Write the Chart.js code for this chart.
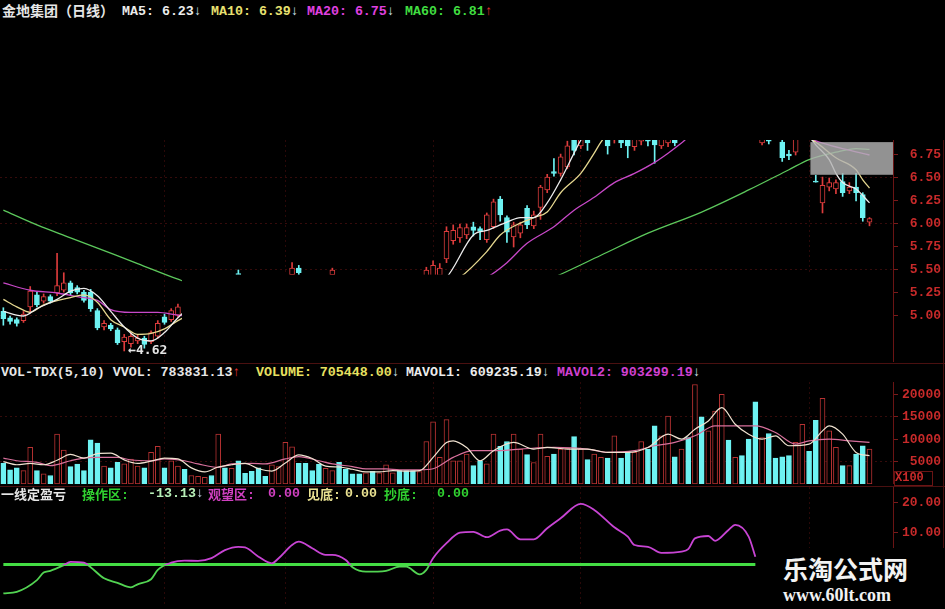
<!DOCTYPE html>
<html>
<head>
<meta charset="utf-8">
<script src="https://cdn.jsdelivr.net/npm/chart.js@4.4.1/dist/chart.umd.min.js"></script>
<style>
  html, body { margin: 0; background: #000; }
  #wrap { position: relative; width: 945px; height: 609px; overflow: hidden; background: #000; }
  canvas { position: absolute; left: 0; }
  .txt { position: absolute; white-space: pre; font-weight: bold; font-size: 13.3px; line-height: 15px;
         font-family: "Liberation Mono", "DejaVu Sans Mono", "Noto Sans CJK SC", monospace; }
  .cjk { font-family: "Noto Sans CJK SC", sans-serif; font-size: 14px; }
  .cjk13 { font-family: "Noto Sans CJK SC", sans-serif; font-size: 13px; }
  .dn { color: #d8e6f6; }
  .up { color: #e03030; }
  .rule { position: absolute; background: #4a1010; }
</style>
</head>
<body>
<div id="wrap">
  <canvas id="price" width="945" height="222" style="top:140px"></canvas>
  <canvas id="vol" width="945" height="102" style="top:382px"></canvas>
  <canvas id="ind" width="945" height="119" style="top:487px"></canvas>

  <div class="rule" style="left:0;top:363px;width:945px;height:1px"></div>
  <div class="rule" style="left:0;top:486px;width:945px;height:1px"></div>
  <div class="rule" style="left:943px;top:140px;width:1px;height:408px"></div>

  <!-- price header -->
  <div class="txt cjk" style="left:2px;top:3px;color:#e6e6e6">金地集团（日线）</div>
  <div class="txt" style="left:122px;top:4px;color:#ececec">MA5: 6.23<span class="dn">↓</span></div>
  <div class="txt" style="left:211px;top:4px;color:#e8e070">MA10: 6.39<span class="dn">↓</span></div>
  <div class="txt" style="left:307px;top:4px;color:#e040e0">MA20: 6.75<span class="dn">↓</span></div>
  <div class="txt" style="left:405px;top:4px;color:#40dd40">MA60: 6.81<span class="up">↑</span></div>

  <!-- volume header -->
  <div class="txt" style="left:1px;top:365px;color:#e6e6e6">VOL-TDX(5,10) VVOL: 783831.13<span class="up">↑</span></div>
  <div class="txt" style="left:256px;top:365px;color:#e8e060">VOLUME: 705448.00<span class="dn">↓</span></div>
  <div class="txt" style="left:406px;top:365px;color:#ececec">MAVOL1: 609235.19<span class="dn">↓</span></div>
  <div class="txt" style="left:557px;top:365px;color:#d040d0">MAVOL2: 903299.19<span class="dn">↓</span></div>
  <div class="txt" style="left:894px;top:471px;width:37px;height:13px;line-height:13px;font-size:12px;color:#c82a2a;border:1px solid #6a1414">X100</div>

  <!-- indicator header -->
  <div class="txt cjk13" style="left:1px;top:486px;color:#e6e6e6">一线定盈亏</div>
  <div class="txt" style="left:82px;top:486px;color:#30d030"><span class="cjk13">操作区</span>:</div>
  <div class="txt" style="left:148px;top:486px;color:#b8f0b8">-13.13<span class="dn">↓</span></div>
  <div class="txt" style="left:208px;top:486px;color:#d040c0"><span class="cjk13">观望区</span>:</div>
  <div class="txt" style="left:268px;top:486px;color:#d040c0">0.00</div>
  <div class="txt" style="left:307px;top:486px;color:#e8e090"><span class="cjk13">见底</span>:</div>
  <div class="txt" style="left:345px;top:486px;color:#e8e090">0.00</div>
  <div class="txt" style="left:384px;top:486px;color:#30d030"><span class="cjk13">抄底</span>:</div>
  <div class="txt" style="left:437px;top:486px;color:#30d030">0.00</div>

  <!-- watermark -->
  <div style="position:absolute;left:757px;top:548px;width:188px;height:61px;background:#000"></div>
  <div style="position:absolute;left:783px;top:553px;color:#f2f2f2;font:bold 25px 'Noto Sans CJK SC',sans-serif;line-height:30px">乐淘公式网</div>
  <div style="position:absolute;left:783px;top:585px;color:#f2f2f2;font:bold 18px 'Liberation Serif',serif;line-height:20px">www.60lt.com</div>
</div>

<script>
// ---- data ----
const slotCount = 133;
const monthDays = [24, 42, 64, 86, 120];

// candles that can be seen (day index, open, high, low, close)
const candleDay = [0,1,2,3,4,5,6,7,8,9,10,11,12,13,14,15,16,17,18,19,20,21,22,23,24,25,26,
  35,43,44,49,
  63,64,65,66,67,68,69,70,71,72,73,74,75,76,77,78,79,80,81,82,83,84,85,86,87,
  90,91,92,93,94,95,96,97,98,99,100,
  113,114,116,117,118,121,122,123,124,125,126,127,128,129];
const open  = [5.05,4.98,4.96,4.95,5.10,5.23,5.16,5.21,5.25,5.28,5.36,5.31,5.26,5.26,5.06,4.88,4.90,4.85,4.72,4.70,4.73,4.76,4.72,4.78,4.99,4.96,5.01,
  5.46,5.45,5.52,5.45,
  5.42,5.40,5.44,5.62,5.82,5.85,5.88,5.97,5.95,5.83,5.97,6.27,6.07,5.86,5.90,6.17,5.98,6.18,6.37,6.57,6.55,6.62,6.95,6.85,7.05,
  7.00,6.95,7.00,6.98,6.84,6.90,7.00,7.00,6.85,6.88,7.00,
  6.88,6.93,6.89,6.76,6.78,6.46,6.23,6.40,6.38,6.46,6.36,6.40,6.32,6.02];
const high  = [5.09,5.00,4.98,5.05,5.32,5.26,5.24,5.23,5.68,5.47,5.38,5.33,5.28,5.29,5.08,4.95,4.92,4.87,4.80,4.82,4.79,4.78,4.84,4.95,5.02,5.08,5.13,
  5.50,5.58,5.55,5.52,
  5.53,5.60,5.57,5.97,5.99,6.00,6.00,6.02,5.97,6.12,6.27,6.30,6.09,6.02,6.02,6.20,6.14,6.42,6.54,6.71,6.76,6.90,7.05,7.10,7.12,
  7.05,7.15,7.05,7.05,7.00,7.08,7.05,7.05,7.00,7.08,7.05,
  7.00,6.96,6.95,6.80,6.96,6.53,6.51,6.50,6.48,6.55,6.45,6.55,6.34,6.07];
const low   = [4.90,4.91,4.89,4.93,5.03,5.10,5.14,5.14,5.22,5.26,5.23,5.24,5.15,5.05,4.85,4.85,4.84,4.69,4.62,4.66,4.70,4.65,4.70,4.76,4.91,4.94,4.99,
  5.40,5.40,5.44,5.43,
  5.38,5.36,5.40,5.58,5.78,5.80,5.84,5.87,5.83,5.80,5.95,6.03,5.80,5.75,5.85,5.95,5.95,6.05,6.34,6.52,6.52,6.60,6.75,6.82,6.80,
  6.76,6.88,6.83,6.72,6.80,6.86,6.85,6.66,6.82,6.84,6.85,
  6.86,6.87,6.68,6.70,6.75,6.455,6.12,6.36,6.33,6.30,6.33,6.25,6.03,5.98];
const close = [4.97,4.94,4.92,5.02,5.27,5.12,5.21,5.16,5.33,5.36,5.25,5.26,5.17,5.08,4.87,4.92,4.86,4.71,4.77,4.78,4.76,4.69,4.82,4.92,4.93,5.06,5.10,
  5.44,5.52,5.47,5.50,
  5.50,5.55,5.52,5.92,5.93,5.96,5.96,5.93,5.92,6.10,6.24,6.10,5.91,5.99,5.99,5.99,6.10,6.40,6.51,6.55,6.73,6.85,6.80,7.05,6.88,
  6.85,7.12,6.88,6.85,6.95,7.05,6.90,6.86,6.98,7.05,6.88,
  6.95,6.90,6.72,6.74,6.92,6.455,6.42,6.45,6.45,6.34,6.40,6.34,6.07,6.06];
const lowDay = 18, lowPrice = 4.62;

// moving averages: [day, value]
const ma5  = [[0,5.05],[3,5.00],[5,5.08],[8,5.18],[10,5.27],[12,5.30],[14,5.22],[16,5.05],[18,4.88],[20,4.76],[22,4.73],[24,4.82],[26,4.98],[28,5.10],
  [45,5.25],[62,5.30],[64,5.35],[66,5.42],[70,5.88],[72,5.93],[75,6.02],[77,6.07],[79,6.07],[81,6.23],[83,6.48],[85,6.77],[86,6.91],[88,7.10],
  [118,7.05],[120,6.95],[121,6.86],[123,6.70],[124,6.55],[125,6.45],[127,6.38],[129,6.23]];
const ma10 = [[0,5.18],[2,5.10],[4,5.04],[6,5.12],[10,5.20],[12,5.23],[14,5.15],[16,4.96],[18,4.88],[20,4.80],[22,4.81],[24,4.86],[26,4.95],[28,5.02],
  [45,5.20],[62,5.30],[66,5.35],[68,5.42],[72,5.70],[74,5.88],[77,6.01],[79,6.07],[81,6.13],[83,6.34],[86,6.55],[88,6.77],[89,6.89],[91,7.05],
  [117,7.05],[119,6.97],[121,6.89],[124,6.72],[127,6.59],[128,6.48],[129,6.39]];
const ma20 = [[0,5.36],[4,5.28],[8,5.25],[11,5.21],[14,5.17],[16,5.07],[19,5.04],[23,5.04],[26,5.01],[28,5.00],[50,5.10],[68,5.30],
  [72,5.42],[75,5.58],[78,5.79],[82,5.97],[85,6.15],[88,6.29],[91,6.45],[94,6.55],[97,6.67],[99,6.77],[101,6.88],[103,7.00],
  [112,7.10],[118,6.98],[122,6.88],[125,6.82],[129,6.75]];
const ma60 = [[0,6.15],[5,5.99],[10,5.85],[15,5.71],[20,5.57],[26,5.40],[28,5.35],[55,5.15],[78,5.30],[82,5.42],[89,5.66],[96,5.90],
  [104,6.13],[111,6.37],[117,6.59],[120,6.70],[124,6.78],[127,6.82],[129,6.81]];

// volume (x100 shares) and day direction, 1 = up (red), 0 = down (cyan)
const volume = [4600,3150,3600,3000,8170,3000,2260,1890,11140,7590,3890,4480,3000,9880,9140,4000,3600,4840,4500,5590,
  4000,3600,7060,8400,3600,5200,4000,3300,1900,1700,1500,1890,11140,3600,3500,5200,2400,2820,3600,1700,
  4260,3900,9290,8330,4600,4600,3000,4400,3500,3000,4840,3300,2260,2260,2500,2820,2500,4260,2500,3000,
  3000,3000,2800,9500,13900,5960,14400,5200,5200,6700,4100,5200,4500,11140,8400,9500,11140,7800,6550,4800,
  11140,6200,6700,7800,8000,10600,7800,5440,6700,5960,5810,10760,5810,7290,7060,9500,7810,12990,10760,15200,
  6100,7800,10400,22240,14990,11880,16320,20020,9810,5960,6330,10030,18390,10400,11280,5810,6100,6330,9290,13360,
  7290,14250,19130,11880,8170,4100,4100,6700,8550,7810];
const dayUp = [0,0,0,1,1,0,1,0,1,1,0,0,0,0,0,1,0,0,1,1,
  1,0,1,1,0,1,1,0,1,1,1,0,1,0,1,0,0,0,0,0,
  1,1,1,1,0,0,0,0,1,1,0,0,0,0,1,0,1,1,1,0,
  0,0,1,1,1,1,1,1,1,1,0,0,1,1,0,0,1,1,0,1,
  1,1,0,1,1,0,1,0,1,1,0,1,0,0,1,1,0,0,1,1,
  0,1,0,1,0,1,1,1,0,1,0,0,0,1,0,0,0,0,1,1,
  0,0,1,1,1,0,1,0,0,1];
const mavol1 = [[0,5000],[2,4300],[4,4600],[6,4300],[8,5300],[10,6600],[12,5800],[14,6800],[16,6900],[18,5400],[20,4600],[22,5100],
  [24,5800],[26,5600],[28,3600],[30,2700],[32,3800],[34,4300],[36,4600],[38,3400],[40,2900],[42,4700],[44,6500],[46,5700],
  [48,4000],[50,3800],[52,3300],[54,2700],[56,2700],[58,3000],[60,2900],[62,3000],[64,5950],[66,9290],[67,9660],[69,8170],
  [71,5200],[73,7440],[76,9290],[79,7810],[81,8170],[84,7810],[87,7810],[90,7060],[93,7060],[96,8170],[99,11140],[101,10030],
  [103,12250],[105,14100],[107,17050],[109,13360],[111,11140],[113,10030],[115,10770],[117,8550],[120,8920],[122,11880],
  [123,12990],[125,11140],[127,7060],[129,6330]];
const mavol2 = [[0,5800],[2,5200],[5,4840],[7,4100],[10,5200],[12,5800],[14,5950],[17,5950],[19,5370],[22,5200],[24,5600],[27,5200],
  [29,4480],[32,3730],[34,4480],[37,4620],[39,4480],[42,5600],[44,6100],[47,5200],[49,4480],[52,3890],[54,3370],[57,3370],
  [59,3150],[62,3150],[64,3400],[67,5950],[70,7440],[73,7440],[77,7810],[82,8170],[87,7810],[90,7060],[94,7440],[97,8550],
  [100,9290],[103,10770],[106,12990],[109,12990],[112,12990],[115,11510],[118,8920],[120,9660],[123,10030],[126,9660],[129,9290]];

// indicator line (一线定盈亏) and its base level
const indicator = [[0,-10.1],[2,-9.6],[5,-5.7],[6,-3.2],[7,-2.6],[9,-0.7],[10,0.4],[12,0.1],[13,-1.4],[15,-5.1],[17,-6.6],[19,-8.1],
  [20,-7.1],[22,-5.4],[23,-2.3],[25,0.1],[27,0.8],[29,0.7],[31,1.6],[33,4.3],[35,5.4],[36,5.2],[38,2.1],[40,-0.1],[41,1.6],
  [43,6.0],[44,7.1],[46,4.9],[48,2.7],[49,2.7],[51,1.0],[52,-1.4],[54,-2.9],[57,-2.6],[59,-1.2],[60,-1.2],[62,-3.8],[63,-2.3],
  [64,1.6],[66,6.6],[68,10.1],[70,10.4],[72,8.6],[74,10.8],[75,11.2],[77,7.9],[79,7.9],[81,11.6],[83,14.9],[86,19.7],[88,17.7],
  [91,11.9],[93,8.8],[94,6.0],[96,5.4],[98,3.4],[101,3.8],[102,4.6],[103,8.2],[105,9.0],[106,7.4],[108,11.0],[109,12.7],
  [111,8.8],[112,2.1]];
const baseLevel = -0.5;
const baseSpan = [0, 112];

const priceTicks = [5.00, 5.25, 5.50, 5.75, 6.00, 6.25, 6.50, 6.75];
const volTicks = [5000, 10000, 15000, 20000];
const indTicks = [10, 20];

// ---- styling ----
const RED = '#dc3c3c', CYAN = '#6ef2f2';
const AXIS_RED = '#c82a2a', GRID = '#360b0b';
const tickFont = {family: 'Liberation Mono', size: 13, weight: 'bold'};

const xScale = () => ({
  type: 'linear', min: -0.5, max: slotCount - 0.5, offset: false,
  afterBuildTicks: s => { s.ticks = monthDays.map(v => ({value: v})); },
  ticks: {display: false},
  grid: {color: '#2a0808', drawTicks: false, offset: false},
  border: {display: false, dash: [2, 3]}
});

const yScale = (min, max, ticks, fmt, gridOn) => ({
  position: 'right', min, max,
  afterBuildTicks: s => { s.ticks = ticks.map(v => ({value: v})); },
  afterFit: s => { s.width = 48; s.paddingTop = 0; s.paddingBottom = 0; },
  ticks: {color: AXIS_RED, font: tickFont, padding: 4, crossAlign: 'far', callback: fmt},
  grid: {color: c => gridOn(c.tick.value) ? GRID : 'rgba(0,0,0,0)', tickColor: '#7a1a1a', tickLength: 5},
  border: {display: true, color: '#6a1414', dash: [2, 3]}
});

const baseOptions = (scales) => ({
  responsive: false, animation: false, devicePixelRatio: 1, events: [],
  layout: {padding: {left: 0, right: 4, top: 0, bottom: 0}},
  plugins: {legend: {display: false}, tooltip: {enabled: false}},
  scales
});

const lineSet = (pts, color, width) => ({
  type: 'line', data: pts.map(([d, v]) => ({x: d, y: v})),
  borderColor: color, borderWidth: width || 1.3, pointRadius: 0,
  cubicInterpolationMode: 'monotone', order: 0
});

const barSet = (data, color, filled, thickness, order) => ({
  type: 'bar', data, grouped: false, barThickness: thickness, minBarLength: 1,
  backgroundColor: filled ? color : '#000', borderColor: color,
  borderWidth: thickness > 1 ? 1 : 0, borderSkipped: false, order
});

// ---- price panel ----
const upK = [], dnK = [];
candleDay.forEach((d, k) => (close[k] >= open[k] ? upK : dnK).push(k));
const bodies = ks => ks.map(k => ({x: candleDay[k], y: [open[k], close[k]]}));
const wicks = ks => ks.map(k => ({x: candleDay[k], y: [low[k], high[k]]}));

const maskFromDay = 26.6, maskBelow = 5.45;
const boxFromDay = 120.2, boxHigh = 6.89, boxLow = 6.535;

const priceOverlay = {
  id: 'priceOverlay',
  afterDatasetsDraw(chart) {
    const {ctx, chartArea: a, scales: {x, y}} = chart;
    ctx.save();
    // part of the screen shot that is blacked out
    const mx = x.getPixelForValue(maskFromDay), my = y.getPixelForValue(maskBelow);
    ctx.fillStyle = '#000';
    ctx.fillRect(mx, my, a.right - mx, a.bottom - my + 2);
    // grey selection box
    const bx = x.getPixelForValue(boxFromDay);
    const by0 = y.getPixelForValue(boxHigh), by1 = y.getPixelForValue(boxLow);
    ctx.fillStyle = 'rgba(178,178,178,0.82)';
    ctx.fillRect(bx, by0, a.right - bx, by1 - by0);
    // lowest price marker
    ctx.fillStyle = '#e6e6e6';
    ctx.font = 'bold 13px "DejaVu Sans Mono"';
    ctx.textBaseline = 'middle';
    ctx.fillText('←' + lowPrice.toFixed(2), x.getPixelForValue(lowDay) + 4, y.getPixelForValue(lowPrice));
    ctx.restore();
  }
};

new Chart(document.getElementById('price'), {
  type: 'line',
  data: {datasets: [
    lineSet(ma5, '#ececec'),
    lineSet(ma10, '#e6d890'),
    lineSet(ma20, '#c848c8'),
    lineSet(ma60, '#5cc85c'),
    barSet(bodies(upK), RED, false, 5, 1),
    barSet(bodies(dnK), CYAN, true, 5, 1),
    barSet(wicks(upK), RED, true, 1, 2),
    barSet(wicks(dnK), CYAN, true, 1, 2)
  ]},
  options: baseOptions({
    x: xScale(),
    y: yScale(4.50, 6.913, priceTicks, v => v.toFixed(2), v => Math.abs(v * 2 - Math.round(v * 2)) < 1e-6)
  }),
  plugins: [priceOverlay]
});

// ---- volume panel ----
const volBars = up => volume.map((v, i) => ({x: i, y: v})).filter((p, i) => dayUp[i] === up);

new Chart(document.getElementById('vol'), {
  type: 'line',
  data: {datasets: [
    lineSet(mavol1, '#f0e2d0', 1.2),
    lineSet(mavol2, '#d8709c', 1.2),
    barSet(volBars(1), '#b83232', false, 5, 1),
    barSet(volBars(0), CYAN, true, 5, 1)
  ]},
  options: baseOptions({
    x: xScale(),
    y: yScale(0, 22800, volTicks, v => String(v), v => v === 15000 || v === 5000)
  })
});

// ---- indicator panel ----
const PURPLE = '#c844d4', GREEN = '#52d452';
function splitColor(context) {
  const {ctx, chartArea, scales} = context.chart;
  if (!chartArea) return GREEN;
  const y0 = scales.y.getPixelForValue(baseLevel);
  const t = Math.min(1, Math.max(0, (y0 - chartArea.top) / (chartArea.bottom - chartArea.top)));
  const g = ctx.createLinearGradient(0, chartArea.top, 0, chartArea.bottom);
  g.addColorStop(0, PURPLE); g.addColorStop(t, PURPLE);
  g.addColorStop(t, GREEN); g.addColorStop(1, GREEN);
  return g;
}

new Chart(document.getElementById('ind'), {
  type: 'line',
  data: {datasets: [
    Object.assign(lineSet(indicator, PURPLE, 1.8), {borderColor: splitColor, order: 0}),
    Object.assign(lineSet(baseSpan.map(d => [d, baseLevel]), '#44dd44', 3), {order: 1})
  ]},
  options: baseOptions({
    x: xScale(),
    y: yScale(-14.33, 25.33, indTicks, v => v.toFixed(2), () => false)
  })
});
</script>
</body>
</html>
